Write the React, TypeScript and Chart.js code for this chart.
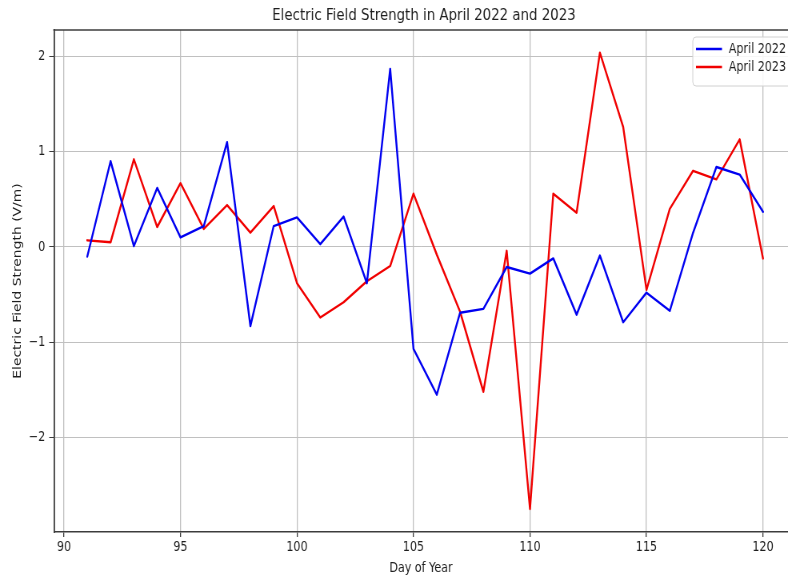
import React, { useEffect, useRef } from "react";
import { Chart, registerables } from "chart.js";

Chart.register(...registerables);

const days = [91, 92, 93, 94, 95, 96, 97, 98, 99, 100, 101, 102, 103, 104, 105, 106, 107, 108, 109, 110, 111, 112, 113, 114, 115, 116, 117, 118, 119, 120];
const april2022 = [-0.10, 0.90, 0.01, 0.62, 0.10, 0.22, 1.10, -0.83, 0.22, 0.31, 0.03, 0.32, -0.38, 1.87, -1.07, -1.55, -0.69, -0.65, -0.21, -0.28, -0.12, -0.71, -0.09, -0.79, -0.48, -0.67, 0.15, 0.84, 0.76, 0.37];
const april2023 = [0.07, 0.05, 0.92, 0.21, 0.67, 0.19, 0.44, 0.15, 0.43, -0.38, -0.74, -0.58, -0.36, -0.20, 0.56, -0.08, -0.68, -1.52, -0.04, -2.75, 0.56, 0.36, 2.04, 1.26, -0.45, 0.40, 0.80, 0.71, 1.13, -0.12];
const seriesNames = ["April 2022", "April 2023"];
const seriesColors = ["#0000f0", "#f00000"];
const xTicks = [90, 95, 100, 105, 110, 115, 120];
const yTicks = [-2, -1, 0, 1, 2];
const titleText = "Electric Field Strength in April 2022 and 2023";
const xLabel = "Day of Year";
const yLabel = "Electric Field Strength (V/m)";

const FONT = "'DejaVu Sans', sans-serif";
const TEXT = "#1e1e1e";
const SQUEEZE = 0.8;
const W = 985;
const H = 577;

const decorPlugin = {
  id: "decor",
  afterDraw(chart: any) {
    const { ctx, chartArea } = chart;
    ctx.save();
    // top spine
    ctx.strokeStyle = "#3c3c3c";
    ctx.lineWidth = 1.5;
    ctx.beginPath();
    ctx.moveTo(chartArea.left - 0.9, chartArea.top);
    ctx.lineTo(chartArea.right, chartArea.top);
    ctx.stroke();
    // title
    ctx.fillStyle = TEXT;
    ctx.font = `16.7px ${FONT}`;
    ctx.textAlign = "center";
    ctx.textBaseline = "middle";
    ctx.fillText(titleText, 530, 16);
    // legend
    const bx = 866, by = 37, bw = 140, bh = 49, r = 4;
    ctx.fillStyle = "rgba(255,255,255,0.85)";
    ctx.strokeStyle = "#d0d0d0";
    ctx.lineWidth = 1;
    ctx.beginPath();
    ctx.moveTo(bx + r, by);
    ctx.lineTo(bx + bw - r, by);
    ctx.arcTo(bx + bw, by, bx + bw, by + r, r);
    ctx.lineTo(bx + bw, by + bh - r);
    ctx.arcTo(bx + bw, by + bh, bx + bw - r, by + bh, r);
    ctx.lineTo(bx + r, by + bh);
    ctx.arcTo(bx, by + bh, bx, by + bh - r, r);
    ctx.lineTo(bx, by + r);
    ctx.arcTo(bx, by, bx + r, by, r);
    ctx.closePath();
    ctx.fill();
    ctx.stroke();
    ctx.font = `13.9px ${FONT}`;
    ctx.textAlign = "left";
    seriesNames.forEach((name, i) => {
      const y = 49 + i * 18;
      ctx.strokeStyle = seriesColors[i];
      ctx.lineWidth = 2.3;
      ctx.beginPath();
      ctx.moveTo(870, y);
      ctx.lineTo(902.5, y);
      ctx.stroke();
      ctx.fillStyle = TEXT;
      ctx.fillText(name, 911, y);
    });
    ctx.restore();
  },
};

export default function App() {
  const ref = useRef<HTMLCanvasElement | null>(null);
  useEffect(() => {
    if (!ref.current) return;
    const chart = new Chart(ref.current, {
      type: "line",
      data: {
        datasets: [april2022, april2023].map((vals, i) => ({
          label: seriesNames[i],
          data: days.map((d, j) => ({ x: d, y: vals[j] })),
          borderColor: seriesColors[i],
          backgroundColor: seriesColors[i],
          borderWidth: 2.4,
          borderJoinStyle: "round",
          borderCapStyle: "round",
          pointRadius: 0,
          tension: 0,
          fill: false,
        })),
      },
      options: {
        animation: false,
        responsive: false,
        devicePixelRatio: 1,
        layout: { padding: { top: 30, left: 0, right: 0, bottom: 0 } },
        plugins: {
          legend: { display: false },
          title: { display: false },
          tooltip: { enabled: false },
        },
        scales: {
          x: {
            type: "linear",
            min: 89.571,
            max: 121.073,
            afterBuildTicks: (s: any) => { s.ticks = xTicks.map((v) => ({ value: v })); },
            afterFit: (s: any) => { s.height = 45; },
            ticks: {
              color: TEXT,
              font: { family: FONT, size: 13.9 },
              padding: 2,
              maxRotation: 0,
              autoSkip: false,
              callback: (v: any) => String(v),
            },
            grid: { color: "#c0c0c0", lineWidth: 1.3, tickLength: 5, tickColor: "#3c3c3c", tickWidth: 1.3 },
            border: { color: "#3c3c3c", width: 1.5 },
            title: { display: true, text: xLabel, color: TEXT, font: { family: FONT, size: 13.9 }, padding: { top: 0, bottom: 0 } },
          },
          y: {
            type: "linear",
            min: -2.992,
            max: 2.278,
            afterBuildTicks: (s: any) => { s.ticks = yTicks.map((v) => ({ value: v })); },
            afterFit: (s: any) => { s.width = 67.5; },
            ticks: {
              color: TEXT,
              font: { family: FONT, size: 13.9 },
              padding: 5,
              autoSkip: false,
              callback: (v: any) => (v < 0 ? "\u2212" + Math.abs(v) : String(v)),
            },
            grid: { color: "#c0c0c0", lineWidth: 1, tickLength: 6, tickColor: "#3c3c3c", tickWidth: 1 },
            border: { color: "#3c3c3c", width: 1.8 },
            title: { display: true, text: yLabel, color: TEXT, font: { family: FONT, size: 13.9 }, padding: { top: 14, bottom: 0 } },
          },
        },
      },
      plugins: [decorPlugin],
    } as any);
    return () => chart.destroy();
  }, []);
  return (
    <div style={{ position: "absolute", left: 0, top: 0, width: 788, height: 577, background: "#fff", overflow: "hidden" }}>
      <div style={{ width: W, height: H, transform: `scaleX(${SQUEEZE})`, transformOrigin: "0 0" }}>
        <canvas ref={ref} width={W} height={H} style={{ display: "block", width: W, height: H }} />
      </div>
    </div>
  );
}
